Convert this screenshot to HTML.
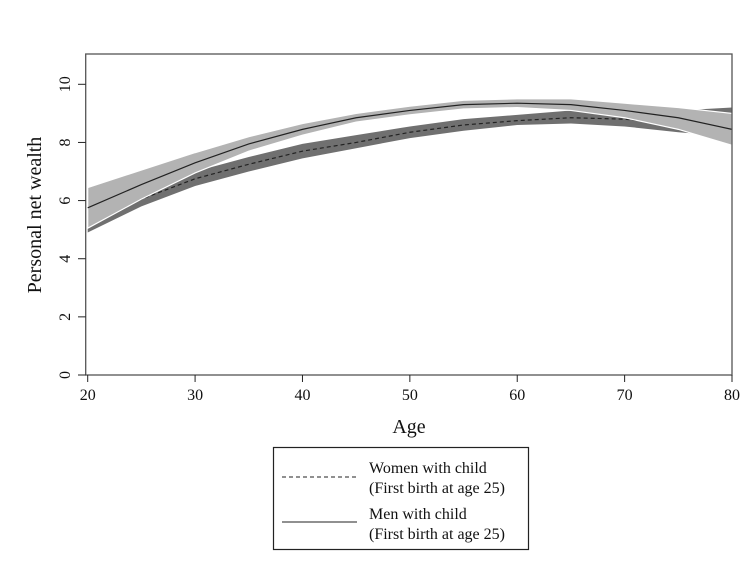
<!DOCTYPE html>
<html><head><meta charset="utf-8"><style>
body{margin:0;background:#fff}
svg{display:block;font-family:"Liberation Serif",serif}
</style></head><body>
<svg id="c" width="754" height="578"></svg>
<script>
const ages=[20,25,30,35,40,45,50,55,60,65,70,75,80];
const menMid=[5.75,6.55,7.3,7.95,8.45,8.85,9.1,9.3,9.35,9.3,9.1,8.85,8.45];
const menLo=[5.05,6.05,6.95,7.7,8.25,8.7,8.95,9.15,9.2,9.1,8.85,8.45,7.9];
const menHi=[6.45,7.05,7.65,8.2,8.65,9.0,9.25,9.45,9.5,9.5,9.35,9.2,9.0];
const womMid=[5.2,6.05,6.75,7.25,7.7,8.0,8.35,8.6,8.75,8.85,8.8,8.65,8.7];
const womLo=[4.9,5.8,6.5,7.0,7.45,7.8,8.15,8.4,8.6,8.65,8.55,8.35,8.2];
const womHi=[5.5,6.3,7.0,7.5,7.95,8.25,8.55,8.8,8.95,9.1,9.05,9.1,9.2];
const xTicks=[20,30,40,50,60,70,80];
const yTicks=[0,2,4,6,8,10];
const NS="http://www.w3.org/2000/svg";
const svg=document.getElementById('c');
const X=a=>87.7+(a-20)*(732-87.7)/60;
const Y=v=>375-v*29.07;
function mk(t,at){const e=document.createElementNS(NS,t);for(const k in at)e.setAttribute(k,at[k]);svg.appendChild(e);return e;}
function band(lo,hi,fill,stroke){let d='M'+ages.map((a,i)=>X(a)+','+Y(hi[i])).join('L')+'L'+ages.slice().reverse().map((a,j)=>{const i=ages.length-1-j;return X(a)+','+Y(lo[i]);}).join('L')+'Z';return mk('path',{d,fill,stroke,'stroke-width':1.2});}
function line(v,dash){return mk('path',{d:'M'+ages.map((a,i)=>X(a)+','+Y(v[i])).join('L'),fill:'none',stroke:'#222','stroke-width':1.2,'stroke-dasharray':dash||'none'});}
let e;
e=band(womLo,womHi,'#707070','none');


e=line(womMid,'4,3');


e=band(menLo,menHi,'#b3b3b3','#fff');


e=line(menMid);


e=mk('rect',{x:85.7,y:54,width:646.3,height:321,fill:'none',stroke:'#555','stroke-width':1.3});


xTicks.forEach(t=>{
 e=mk('line',{x1:X(t),x2:X(t),y1:375,y2:382,stroke:'#222'});
 
 
 e=mk('text',{x:X(t),y:400,'text-anchor':'middle','font-size':16,fill:'#111'});e.textContent=t;
 
 
});
yTicks.forEach(t=>{
 e=mk('line',{x1:78,x2:85.7,y1:Y(t),y2:Y(t),stroke:'#222'});
 
 
 e=mk('text',{x:0,y:0,'text-anchor':'middle','font-size':16,fill:'#111',transform:`translate(70,${Y(t)}) rotate(-90)`});e.textContent=t;
 
 
});
e=mk('text',{x:409,y:433,'text-anchor':'middle','font-size':20,fill:'#111'});e.textContent='Age';


e=mk('text',{x:0,y:0,'text-anchor':'middle','font-size':20,fill:'#111',transform:'translate(41,215) rotate(-90)'});e.textContent='Personal net wealth';


e=mk('rect',{x:273.5,y:447.5,width:255,height:102,fill:'#fff',stroke:'#222','stroke-width':1.2});


e=mk('line',{x1:282,x2:357,y1:477,y2:477,stroke:'#222','stroke-dasharray':'4,3'});


e=mk('line',{x1:282,x2:357,y1:522,y2:522,stroke:'#222'});


[['Women with child',473],['(First birth at age 25)',493],['Men with child',519],['(First birth at age 25)',539]].forEach(([s,y])=>{
 e=mk('text',{x:369,y,'font-size':16,fill:'#111'});e.textContent=s;
 
 
});
</script>
</body></html>
